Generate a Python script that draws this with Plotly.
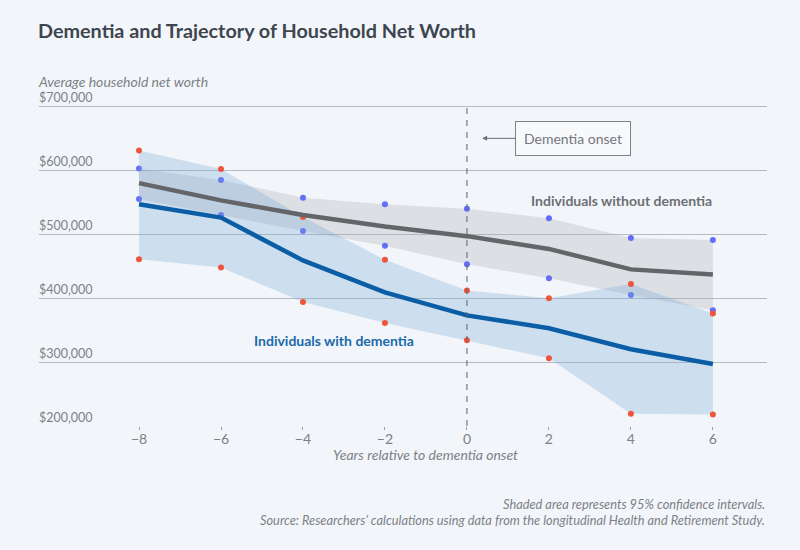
import plotly.graph_objects as go

years = [-8, -6, -4, -2, 0, 2, 4, 6]
with_dem = [547000, 526000, 459000, 409000, 373000, 353000, 320000, 297000]
with_dem_lo = [461000, 448000, 394000, 361000, 334000, 306000, 219000, 218000]
with_dem_hi = [631000, 602000, 527000, 460000, 412000, 400000, 422000, 376000]
without_dem = [580000, 553000, 530000, 512000, 497000, 477000, 445000, 437000]
without_lo = [555000, 530000, 505000, 482000, 453000, 431000, 405000, 381000]
without_hi = [603000, 585000, 557000, 547000, 540000, 525000, 494000, 491000]
y_ticks = [200000, 300000, 400000, 500000, 600000, 700000]
y_tick_text = ["$200,000", "$300,000", "$400,000", "$500,000", "$600,000", "$700,000"]
x_ticks = [-8, -6, -4, -2, 0, 2, 4, 6]
x_tick_text = ["\u22128", "\u22126", "\u22124", "\u22122", "0", "2", "4", "6"]

BG = "#f2f6fa"
FONT = "Lato"
GRAY_TXT = "#7d8186"

fig = go.Figure()

fig.add_trace(go.Scatter(
    x=years + years[::-1], y=without_hi + without_lo[::-1],
    fill="toself", fillcolor="rgba(170,170,178,0.30)", line=dict(width=0),
    hoverinfo="skip", showlegend=False))
fig.add_trace(go.Scatter(
    x=years + years[::-1], y=with_dem_hi + with_dem_lo[::-1],
    fill="toself", fillcolor="rgba(120,170,215,0.30)", line=dict(width=0),
    hoverinfo="skip", showlegend=False))
fig.add_trace(go.Scatter(
    x=years, y=without_dem, mode="lines",
    line=dict(color="#636569", width=4.5), showlegend=False))
fig.add_trace(go.Scatter(
    x=years, y=with_dem, mode="lines",
    line=dict(color="#0b5ea5", width=4.5), showlegend=False))

fig.add_shape(type="line", x0=0, x1=0, y0=200000, y1=700000, xref="x", yref="y",
              line=dict(color="#5f6267", width=1, dash="6px,6px"))

fig.update_layout(
    width=800, height=550,
    paper_bgcolor=BG, plot_bgcolor=BG,
    margin=dict(l=39, r=33, t=100, b=124),
    font=dict(family=FONT, color=GRAY_TXT, size=13),
    xaxis=dict(range=[-10.44, 7.32], tickvals=x_ticks, ticktext=x_tick_text,
               showgrid=False, zeroline=False, showline=False,
               ticks="outside", ticklen=3, tickcolor="#9a9ea4",
               ticklabelstandoff=-3,
               tickfont=dict(size=14, color=GRAY_TXT, family=FONT)),
    yaxis=dict(range=[200000, 710000], tickvals=y_ticks, ticktext=y_tick_text,
               showgrid=True, gridcolor="#b7bbc1", gridwidth=1, zeroline=False,
               showline=False, ticks="", ticklabelposition="inside top",
               ticklabeloverflow="allow", ticklabelstandoff=-3,
               tickfont=dict(size=12.5, color=GRAY_TXT, family=FONT)),
    annotations=[
        dict(text="<b>Dementia and Trajectory of Household Net Worth</b>",
             xref="paper", yref="paper", x=0, y=1, xanchor="left", yanchor="middle",
             xshift=-3, yshift=100 - 30, showarrow=False,
             font=dict(size=19.8, color="#3e4550", family=FONT)),
        dict(text="<i>Average household net worth</i>", xref="paper", yref="paper",
             x=0, y=1, xanchor="left", yanchor="middle", xshift=-3, yshift=100 - 81,
             showarrow=False, font=dict(size=14, color=GRAY_TXT, family=FONT)),
        dict(text="<i>Years relative to dementia onset</i>", xref="x", yref="paper",
             x=-1.02, y=0, xanchor="center", yanchor="middle", yshift=-28, showarrow=False,
             font=dict(size=14, color=GRAY_TXT, family=FONT)),
        dict(text="Dementia onset", xref="x", yref="y", x=0.37, y=650000,
             ax=91, ay=0, showarrow=True, arrowhead=2, arrowsize=1, arrowwidth=1,
             arrowcolor="#6b6e73", bgcolor="#f7f9fb", bordercolor="#7d8186",
             borderwidth=1, borderpad=8,
             font=dict(size=14, color="#74777c", family=FONT)),
        dict(text="<b>Individuals without dementia</b>", xref="x", yref="y",
             x=3.76, y=553000, showarrow=False,
             font=dict(size=14, color="#6d6f73", family=FONT)),
        dict(text="<b>Individuals with dementia</b>", xref="x", yref="y",
             x=-3.24, y=333000, showarrow=False,
             font=dict(size=14, color="#1b6aab", family=FONT)),
        dict(text="<i>Shaded area represents 95% confidence intervals.</i>",
             xref="paper", yref="paper", x=1, y=0, xanchor="right", yanchor="middle",
             xshift=0, yshift=-(504 - 426), showarrow=False,
             font=dict(size=12.8, color=GRAY_TXT, family=FONT)),
        dict(text="<i>Source: Researchers\u2019 calculations using data from the longitudinal Health and Retirement Study.</i>",
             xref="paper", yref="paper", x=1, y=0, xanchor="right", yanchor="middle",
             xshift=0, yshift=-(520 - 426), showarrow=False,
             font=dict(size=12.8, color=GRAY_TXT, family=FONT)),
    ],
)

fig.write_html("out.html")
